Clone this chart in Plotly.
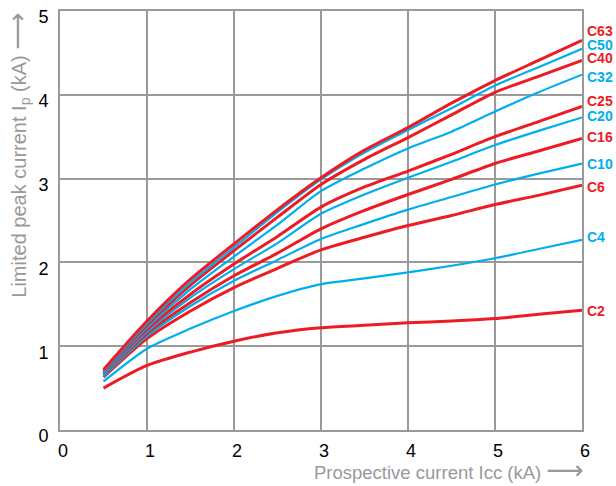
import plotly.graph_objects as go

x_vals = [0.5, 1, 1.5, 2, 2.5, 3, 3.5, 4, 4.5, 5, 5.5, 6]

series_names = ["C2", "C4", "C6", "C10", "C16", "C20", "C25", "C32", "C40", "C50", "C63"]

C63 = [0.72, 1.30, 1.80, 2.22, 2.63, 3.01, 3.34, 3.61, 3.90, 4.17, 4.41, 4.65]
C50 = [0.70, 1.27, 1.76, 2.18, 2.60, 2.99, 3.31, 3.58, 3.84, 4.11, 4.33, 4.55]
C40 = [0.70, 1.25, 1.73, 2.14, 2.54, 2.93, 3.23, 3.49, 3.76, 4.03, 4.22, 4.41]
C32 = [0.68, 1.22, 1.68, 2.07, 2.45, 2.85, 3.12, 3.36, 3.56, 3.80, 4.03, 4.24]
C25 = [0.68, 1.20, 1.62, 1.98, 2.31, 2.66, 2.90, 3.09, 3.29, 3.50, 3.68, 3.86]
C20 = [0.66, 1.17, 1.58, 1.92, 2.23, 2.58, 2.81, 3.01, 3.20, 3.40, 3.57, 3.73]
C16 = [0.66, 1.15, 1.52, 1.84, 2.11, 2.40, 2.62, 2.81, 2.99, 3.18, 3.33, 3.48]
C10 = [0.64, 1.12, 1.48, 1.78, 2.03, 2.28, 2.46, 2.63, 2.78, 2.93, 3.06, 3.18]
C6 = [0.63, 1.09, 1.42, 1.70, 1.93, 2.15, 2.30, 2.44, 2.56, 2.69, 2.80, 2.92]
C4 = [0.58, 0.97, 1.21, 1.42, 1.60, 1.74, 1.81, 1.88, 1.96, 2.05, 2.16, 2.27]
C2 = [0.50, 0.77, 0.93, 1.06, 1.16, 1.22, 1.25, 1.28, 1.30, 1.33, 1.38, 1.43]

data = {"C2": C2, "C4": C4, "C6": C6, "C10": C10, "C16": C16, "C20": C20,
        "C25": C25, "C32": C32, "C40": C40, "C50": C50, "C63": C63}

x_ticks = [0, 1, 2, 3, 4, 5, 6]
y_ticks = [0, 1, 2, 3, 4, 5]

RED = "#ED1C24"
BLUE = "#00AEEF"
GRID = "#9a9a9a"
FONT = "Liberation Sans, Arial, sans-serif"

colors = {"C2": RED, "C4": BLUE, "C6": RED, "C10": BLUE, "C16": RED, "C20": BLUE,
          "C25": RED, "C32": BLUE, "C40": RED, "C50": BLUE, "C63": RED}
# label vertical nudges in pixels
label_shift = {"C2": -1, "C4": 3, "C6": -2, "C10": 0, "C16": 1, "C20": 1,
               "C25": 6, "C32": -2, "C40": 2, "C50": 4, "C63": 9}

fig = go.Figure()
for name in series_names:
    col = colors[name]
    fig.add_trace(go.Scatter(
        x=x_vals, y=data[name], mode="lines", name=name,
        line=dict(color=col, width=3 if col == RED else 2.2, shape="spline", smoothing=0.7),
        showlegend=False, hoverinfo="skip"))
    fig.add_annotation(x=x_vals[-1], y=data[name][-1], xref="x", yref="y",
                       text="<b>%s</b>" % name, showarrow=False,
                       xanchor="left", yanchor="middle", xshift=3, yshift=label_shift[name],
                       font=dict(family=FONT, size=14, color=col))

arrow = '<span style="font-family:DejaVu Sans;font-size:26px">\u27f6</span>'
fig.add_annotation(xref="paper", yref="paper", x=1.007, y=-0.095,
                   text="Prospective current Icc (kA) " + arrow, showarrow=False,
                   xanchor="right", yanchor="middle",
                   font=dict(family=FONT, size=18.5, color="#999999"))
fig.add_annotation(xref="paper", yref="paper", x=-0.082, y=1.0,
                   text="Limited peak current I<sub>p</sub> (kA) " + arrow, showarrow=False,
                   textangle=-90, xanchor="center", yanchor="top",
                   font=dict(family=FONT, size=20, color="#999999"))

axis_common = dict(showgrid=True, gridcolor=GRID, gridwidth=2, showline=True,
                   linecolor=GRID, linewidth=2, mirror=True, zeroline=False,
                   ticks="", tickfont=dict(family=FONT, size=18, color="#000000"))

fig.update_xaxes(range=[0, 6], tickvals=x_ticks, ticklabelstandoff=3, ticklabelshift=3,
                 **axis_common)
fig.update_yaxes(range=[0, 5], tickvals=y_ticks, ticklabelstandoff=6, ticklabelshift=6,
                 **axis_common)

fig.update_layout(width=616, height=486, margin=dict(l=60, r=34, t=7, b=56),
                  paper_bgcolor="white", plot_bgcolor="white")

fig.write_html("out.html", config={"displayModeBar": False},
               post_script="document.body.style.margin='0';")
